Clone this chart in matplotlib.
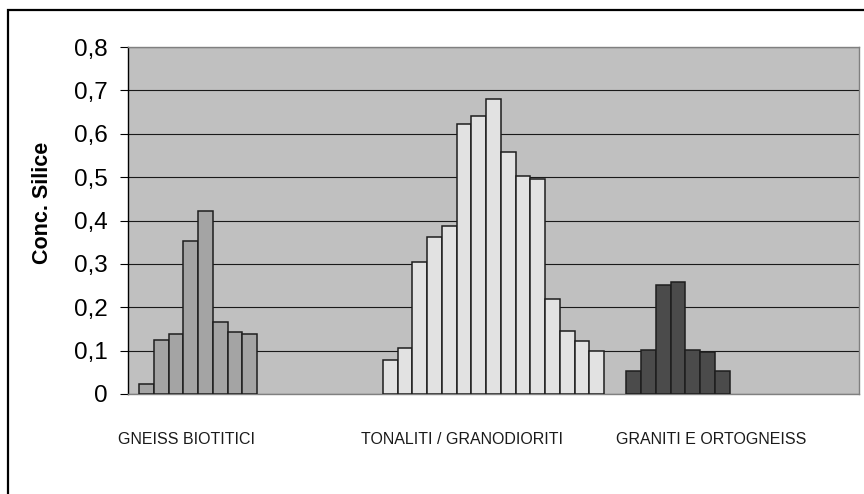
import matplotlib
matplotlib.use("Agg")
import matplotlib.pyplot as plt
import matplotlib.transforms as mtransforms
from matplotlib.patches import Rectangle
from matplotlib.ticker import MultipleLocator, FuncFormatter

plt.rcParams['font.family'] = ['Liberation Sans', 'DejaVu Sans']

# Silica concentration per sample, grouped by rock type
categories = ["GNEISS BIOTITICI", "TONALITI / GRANODIORITI", "GRANITI E ORTOGNEISS"]
gneiss = [0.022, 0.124, 0.139, 0.352, 0.422, 0.165, 0.143, 0.139]
tonaliti = [0.078, 0.107, 0.305, 0.361, 0.388, 0.623, 0.642, 0.680,
            0.557, 0.503, 0.496, 0.220, 0.145, 0.123, 0.100]
graniti = [0.053, 0.101, 0.251, 0.258, 0.101, 0.097, 0.053]
series = [gneiss, tonaliti, graniti]
colors = ["#A4A4A4", "#E2E2E2", "#4B4B4B"]

n_slots = 15          # bars per category slot
gap = 1.5             # gap between categories, in bar widths
bw = 1.0 / (n_slots + gap)

fig = plt.figure(figsize=(8.64, 4.94), dpi=100)
ax = fig.add_axes([128 / 864, 1 - 394 / 494, 731 / 864, 347 / 494])
ax.set_facecolor("#C0C0C0")

for c, (vals, col) in enumerate(zip(series, colors)):
    xs = [c + gap / 2 * bw + j * bw for j in range(len(vals))]
    ax.bar(xs, vals, width=bw, align='edge', color=col,
           edgecolor="#1E1E1E", linewidth=1.1, zorder=3)

ax.set_xlim(0, 3)
ax.set_ylim(0, 0.8)
ax.yaxis.set_major_locator(MultipleLocator(0.1))
ax.yaxis.set_major_formatter(FuncFormatter(
    lambda v, p: "0" if abs(v) < 1e-9 else f"{v:.1f}".replace(".", ",")))
ax.grid(axis='y', color="#1A1A1A", linewidth=0.8, zorder=1)
ax.set_axisbelow(True)
ax.set_xticks([])
ax.tick_params(axis='y', length=6, width=0.8, color="#000000",
               labelsize=17.5, pad=8.5)

for side in ("top", "right", "bottom"):
    ax.spines[side].set_color("#808080")
    ax.spines[side].set_linewidth(1.0)
ax.spines["left"].set_color("#000000")
ax.spines["left"].set_linewidth(1.0)

ax.set_ylabel("Conc. Silice", fontsize=15.5, fontweight='bold')
ax.yaxis.set_label_coords(-0.1026, 0.55)

# Category names below the plot area
trans = mtransforms.blended_transform_factory(ax.transData, ax.transAxes)
label_x = [-0.041, 0.958, 2.001]
for lx, name in zip(label_x, categories):
    ax.text(lx, -0.13, name, transform=trans, ha='left', va='center',
            fontsize=11.5, color="#1A1A1A")

# Chart frame
fig.add_artist(Rectangle((7.5 / 864, -0.2), 1.2, 1.2 - 10 / 494,
                         transform=fig.transFigure, fill=False,
                         edgecolor="#000000", linewidth=1.6))

fig.savefig("out.png", dpi=100)
